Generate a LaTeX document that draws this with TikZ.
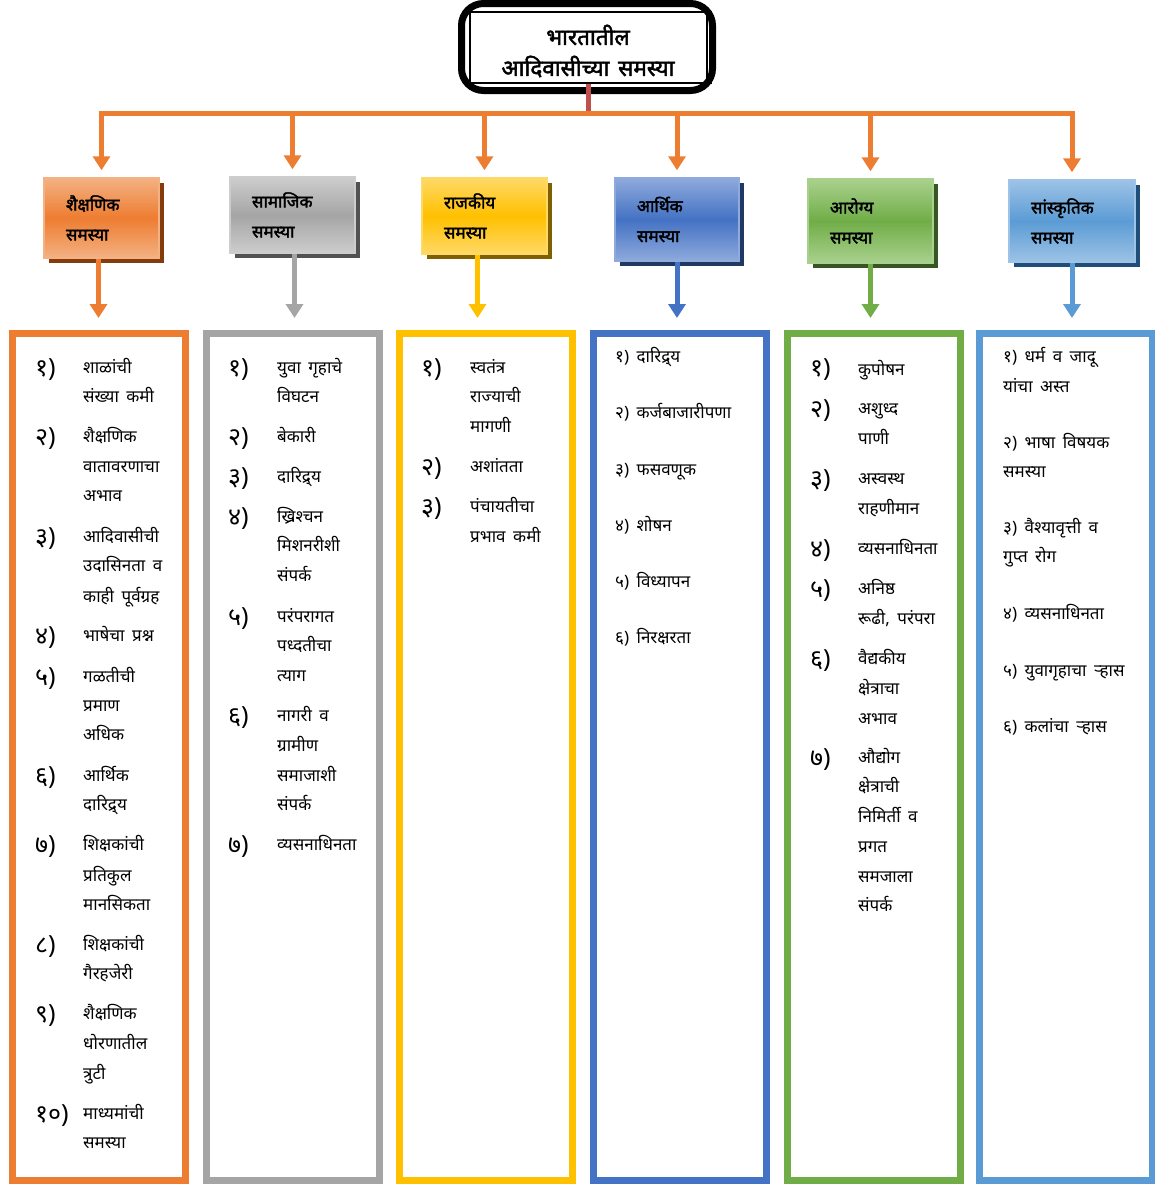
\documentclass[tikz,border=0pt]{standalone}
\usepackage{fontspec}
\setmainfont{Noto Sans}[Script=Devanagari, WordSpace=1.7]
\newfontfamily\devbold{Noto Sans}[Script=Devanagari, FakeBold=2.2, WordSpace=1.5]
\usetikzlibrary{arrows.meta,shadows}
\definecolor{cOr}{HTML}{ED7D31}\definecolor{cOrL}{HTML}{F4B183}\definecolor{cOrS}{HTML}{843C0C}
\definecolor{cGr}{HTML}{A5A5A5}\definecolor{cGrL}{HTML}{CDCDCD}\definecolor{cGrS}{HTML}{525252}
\definecolor{cYe}{HTML}{FFC000}\definecolor{cYeL}{HTML}{FFD966}\definecolor{cYeS}{HTML}{7F6000}
\definecolor{cBl}{HTML}{4472C4}\definecolor{cBlL}{HTML}{8FAADC}\definecolor{cBlS}{HTML}{203864}
\definecolor{cGn}{HTML}{70AD47}\definecolor{cGnL}{HTML}{A9D18E}\definecolor{cGnS}{HTML}{375623}
\definecolor{cLb}{HTML}{5B9BD5}\definecolor{cLbL}{HTML}{9DC3E6}\definecolor{cLbS}{HTML}{1F4E79}
\definecolor{cRd}{HTML}{C0504D}
\begin{document}
\begin{tikzpicture}[x=1pt,y=-1pt,
  catbox/.style n args={3}{top color=#1, bottom color=#1, middle color=#2, draw=#1, line width=1.5pt,
    drop shadow={shadow xshift=5pt, shadow yshift=-5pt, fill=#3, opacity=1},
    align=left, inner xsep=22pt, inner ysep=0pt, font=\devbold\fontsize{17}{30}\selectfont},
  lbox/.style={draw=#1, line width=7pt, minimum width=173pt, minimum height=847pt, fill=white, inner sep=0pt},
  arr/.style={draw=#1, line width=5pt, -{Triangle[width=17pt,length=14pt]}},
  itm/.style={anchor=base west, yshift=-5pt, inner sep=0pt, font=\fontsize{17}{18}\selectfont},
  num/.style={anchor=base west, yshift=-8pt, inner sep=0pt, font=\fontsize{25}{27}\selectfont},
]
\useasboundingbox (0,0) rectangle (1155,1184);
% title
\node[draw=black, line width=7pt, rounded corners=22pt, minimum width=251pt, minimum height=87pt] (t) at (587,47) {};
\node[draw=black, line width=1.2pt, minimum width=237pt, minimum height=71pt, align=center,
  font=\devbold\fontsize{22.5}{31}\selectfont, inner sep=0pt] (ti) at (588.5,47.5) {};
\node[align=center, font=\devbold\fontsize{22.5}{31}\selectfont, inner sep=0pt] (tt) at (588,51) {भारतातील\\आदिवासीच्या समस्या};
\draw[line width=1.2pt] ([xshift=4pt]ti.north east) -- ([xshift=4pt]ti.south east);
% categories
\node[catbox={cOrL}{cOr}{cOrS}, minimum width=115pt, minimum height=80pt, text width=71pt] (c1) at (101.5,218) {शैक्षणिक\\समस्या};
\node[catbox={cGrL}{cGr}{cGrS}, minimum width=125pt, minimum height=76pt, text width=81pt] (c2) at (292.5,215) {सामाजिक\\समस्या};
\node[catbox={cYeL}{cYe}{cYeS}, minimum width=125pt, minimum height=76pt, text width=81pt] (c3) at (484.5,216) {राजकीय\\समस्या};
\node[catbox={cBlL}{cBl}{cBlS}, minimum width=124pt, minimum height=83pt, text width=80pt] (c4) at (677,219.5) {आर्थिक\\समस्या};
\node[catbox={cGnL}{cGn}{cGnS}, minimum width=125pt, minimum height=84pt, text width=81pt] (c5) at (870.5,221) {आरोग्य\\समस्या};
\node[catbox={cLbL}{cLb}{cLbS}, minimum width=126pt, minimum height=82pt, text width=82pt] (c6) at (1072,221) {सांस्कृतिक\\समस्या};
% bus
\coordinate (bus) at (0,113);
\foreach \i in {1,...,6} \coordinate (b\i) at (c\i.north |- bus);
\draw[cRd, line width=5pt] (ti.south) -- (ti.south |- bus);
\draw[cOr, line width=5pt, line cap=rect] (b1) -- (b6);
\foreach \i in {1,...,6} \draw[arr=cOr, shorten >=7pt] (b\i) -- (c\i.north);
% list boxes
\node[lbox=cOr] (l1) at (98.5,757) {};
\node[lbox=cGr] (l2) at (293,757) {};
\node[lbox=cYe] (l3) at (486,757) {};
\node[lbox=cBl] (l4) at (680,757) {};
\node[lbox=cGn] (l5) at (874,757) {};
\node[lbox=cLb] (l6) at (1066,757) {};
\draw[arr=cOr, shorten >=12pt] ([xshift=-3pt]c1.south) -- ([xshift=-3pt]c1.south |- l1.north);
\draw[arr=cGr, shorten >=12pt] ([xshift=2pt]c2.south) -- ([xshift=2pt]c2.south |- l2.north);
\draw[arr=cYe, shorten >=12pt] ([xshift=-7pt]c3.south) -- ([xshift=-7pt]c3.south |- l3.north);
\draw[arr=cBl, shorten >=12pt] (c4.south) -- (c4.south |- l4.north);
\draw[arr=cGn, shorten >=12pt] (c5.south) -- (c5.south |- l5.north);
\draw[arr=cLb, shorten >=12pt] (c6.south) -- (c6.south |- l6.north);
% box 1
\foreach \y/\t [count=\i] in {368/१,437/२,537/३,636/४,677/५,776/६,845/७,945/८,1014/९,1114/१०}
  \node[num, name=an\i] at (35,\y) {\t)};
\foreach \y/\t [count=\i] in {368/शाळांची,397/संख्या कमी,437/शैक्षणिक,467/वातावरणाचा,496/अभाव,537/आदिवासीची,566/उदासिनता व,597/काही पूर्वग्रह,636/भाषेचा प्रश्न,677/गळतीची,706/प्रमाण,735/अधिक,776/आर्थिक,805/दारिद्र्य,845/शिक्षकांची,876/प्रतिकुल,905/मानसिकता,945/शिक्षकांची,974/गैरहजेरी,1014/शैक्षणिक,1044/धोरणातील,1074/त्रुटी,1114/माध्यमांची,1143/समस्या}
  \node[itm, name=a\i] at (83,\y) {\t};
% box 2
\foreach \y/\t [count=\i] in {368/१,437/२,477/३,517/४,617/५,716/६,845/७}
  \node[num, name=bn\i] at (228,\y) {\t)};
\foreach \y/\t [count=\i] in {368/युवा गृहाचे,397/विघटन,437/बेकारी,477/दारिद्र्य,517/ख्रिश्चन,546/मिशनरीशी,576/संपर्क,617/परंपरागत,646/पध्दतीचा,676/त्याग,716/नागरी व,746/ग्रामीण,776/समाजाशी,805/संपर्क,845/व्यसनाधिनता}
  \node[itm, name=b\i] at (277,\y) {\t};
% box 3
\foreach \y/\t [count=\i] in {368/१,467/२,507/३}
  \node[num, name=cn\i] at (421,\y) {\t)};
\foreach \y/\t [count=\i] in {368/स्वतंत्र,397/राज्याची,427/मागणी,467/अशांतता,507/पंचायतीचा,537/प्रभाव कमी}
  \node[itm, name=cc\i] at (470,\y) {\t};
% box 4
\foreach \y/\t [count=\i] in {357/१) दारिद्र्य,413/२) कर्जबाजारीपणा,470/३) फसवणूक,526/४) शोषन,582/५) विध्यापन,638/६) निरक्षरता}
  \node[itm, name=d\i] at (615,\y) {\t};
% box 5
\foreach \y/\t [count=\i] in {368/१,409/२,479/३,549/४,589/५,659/६,758/७}
  \node[num, name=en\i] at (810,\y) {\t)};
\foreach \y/\t [count=\i] in {370/कुपोषन,409/अशुध्द,439/पाणी,479/अस्वस्थ,509/राहणीमान,549/व्यसनाधिनता,589/अनिष्ठ,619/{रूढी, परंपरा},659/वैद्यकीय,689/क्षेत्राचा,719/अभाव,758/औद्योग,787/क्षेत्राची,817/निमिर्ती व,847/प्रगत,877/समजाला,906/संपर्क}
  \node[itm, name=e\i] at (858,\y) {\t};
% box 6
\foreach \y/\t [count=\i] in {357/१) धर्म व जादू,387/यांचा अस्त,443/२) भाषा विषयक,472/समस्या,528/३) वैश्यावृत्ती व,557/गुप्त रोग,614/४) व्यसनाधिनता,671/५) युवागृहाचा ऱ्हास,727/६) कलांचा ऱ्हास}
  \node[itm, name=f\i] at (1003,\y) {\t};
\end{tikzpicture}
\end{document}
